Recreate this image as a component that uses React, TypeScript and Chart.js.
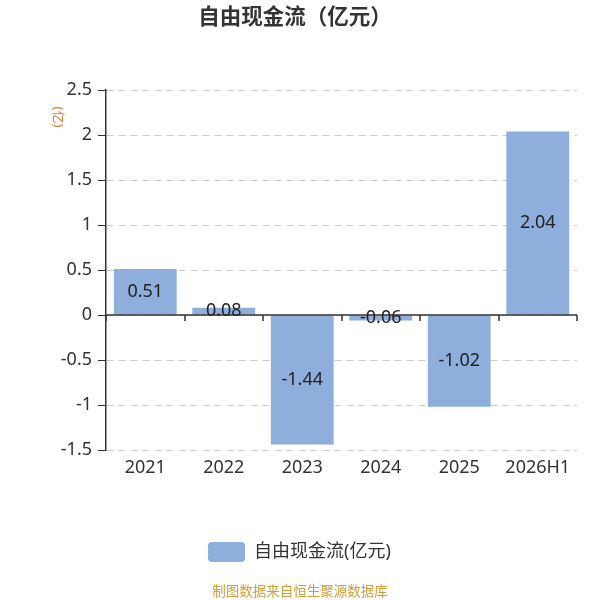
import React, { useEffect, useRef } from 'react';
import { Chart, registerables } from 'chart.js';

Chart.register(...registerables);

// 数据
const years = ['2021', '2022', '2023', '2024', '2025', '2026H1'];
const cashFlow = [0.51, 0.08, -1.44, -0.06, -1.02, 2.04];
const yTicks = [2.5, 2, 1.5, 1, 0.5, 0, -0.5, -1, -1.5];

const seriesName = '自由现金流(亿元)';
const titleText = '自由现金流（亿元）';
const unitText = '(亿)';
const sourceText = '制图数据来自恒生聚源数据库';

const FONT = '"Noto Sans", "Noto Sans CJK SC", sans-serif';
const BAR_COLOR = '#8eaedc';

const decorations = {
  id: 'decorations',
  afterDatasetsDraw(chart: any) {
    const { ctx, chartArea, scales } = chart;
    const xs = scales.x;
    const zero = scales.y.getPixelForValue(0);

    ctx.save();
    // zero axis line + category ticks
    ctx.strokeStyle = '#333';
    ctx.lineWidth = 1.5;
    ctx.beginPath();
    ctx.moveTo(chartArea.left, zero);
    ctx.lineTo(chartArea.right, zero);
    for (let i = 0; i <= years.length; i++) {
      const px = Math.round(xs.getPixelForValue(i - 0.5));
      ctx.moveTo(px, zero);
      ctx.lineTo(px, zero + 6);
    }
    ctx.stroke();

    // value labels in the middle of each bar
    const meta = chart.getDatasetMeta(0);
    ctx.font = `18px ${FONT}`;
    ctx.fillStyle = '#222';
    ctx.textAlign = 'center';
    ctx.textBaseline = 'middle';
    meta.data.forEach((bar: any, i: number) => {
      const { x, y, base } = bar.getProps(['x', 'y', 'base'], true);
      ctx.fillText(cashFlow[i].toFixed(2), x, (y + base) / 2);
    });
    ctx.restore();
  },
  afterDraw(chart: any) {
    const { ctx } = chart;
    ctx.save();

    // title
    ctx.font = `bold 21.5px ${FONT}`;
    ctx.fillStyle = '#333';
    ctx.textAlign = 'center';
    ctx.textBaseline = 'middle';
    ctx.fillText(titleText, 295, 18);

    // unit label, rotated
    ctx.save();
    ctx.translate(58, 117);
    ctx.rotate(Math.PI / 2);
    ctx.font = `13px ${FONT}`;
    ctx.fillStyle = '#d97a2b';
    ctx.fillText(unitText, 0, 0);
    ctx.restore();

    // legend
    ctx.fillStyle = BAR_COLOR;
    ctx.beginPath();
    ctx.roundRect(208, 542, 37, 20, 4);
    ctx.fill();
    ctx.font = `18px ${FONT}`;
    ctx.fillStyle = '#333';
    ctx.textAlign = 'left';
    ctx.fillText(seriesName, 254, 552);

    // source
    ctx.font = `13.5px ${FONT}`;
    ctx.fillStyle = '#cf9f3a';
    ctx.textAlign = 'center';
    ctx.fillText(sourceText, 300, 592);

    ctx.restore();
  },
};

export default function App() {
  const canvasRef = useRef<HTMLCanvasElement>(null);

  useEffect(() => {
    const chart = new Chart(canvasRef.current!, {
      type: 'bar',
      data: {
        labels: years,
        datasets: [
          {
            label: seriesName,
            data: cashFlow,
            backgroundColor: BAR_COLOR,
            borderWidth: 0,
            barPercentage: 0.8,
            categoryPercentage: 1,
          },
        ],
      },
      options: {
        responsive: false,
        animation: false,
        layout: { padding: { top: 90, right: 23, left: 0, bottom: 0 } },
        plugins: {
          legend: { display: false },
          title: { display: false },
          tooltip: { enabled: false },
        },
        scales: {
          x: {
            grid: { display: false, drawTicks: false },
            border: { display: false },
            ticks: {
              color: '#333',
              font: { size: 18, family: FONT },
              padding: 7,
              maxRotation: 0,
            },
            afterFit(scale: any) {
              scale.height = 150;
            },
          },
          y: {
            min: -1.5,
            max: 2.5,
            afterBuildTicks(scale: any) {
              scale.ticks = yTicks.map((v) => ({ value: v }));
            },
            afterFit(scale: any) {
              scale.width = 106;
            },
            grid: {
              color: '#cccccc',
              lineWidth: 1,
              drawTicks: true,
              tickLength: 8,
              tickColor: '#333',
            },
            border: { display: true, color: '#333', width: 1.5, dash: [7, 5] },
            ticks: {
              color: '#333',
              font: { size: 18, family: FONT },
              padding: 6,
              callback: (v: any) => String(v),
            },
          },
        },
      },
      plugins: [decorations],
    });
    return () => chart.destroy();
  }, []);

  return (
    <div style={{ position: 'absolute', left: 0, top: 0, width: 600, height: 600 }}>
      <canvas ref={canvasRef} width={600} height={600} />
    </div>
  );
}
